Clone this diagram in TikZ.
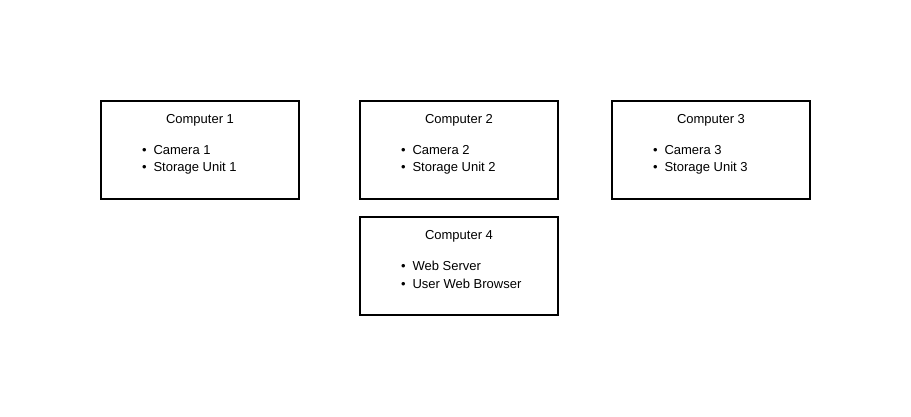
\documentclass[tikz,border=0pt]{standalone}
\usepackage{fontspec}
\setmainfont{Liberation Sans}
\usetikzlibrary{positioning}

\begin{document}
\begin{tikzpicture}[x=1pt, y=-1pt,
		    every node/.style={font=\fontsize{13}{15}\selectfont, inner sep=0pt, outer sep=0pt},
		    computer/.style={draw=black, line width=2pt, minimum width=198pt, minimum height=98pt, anchor=north west},
		    item/.style={anchor=west}]

\useasboundingbox (0,0) rectangle (911,416);

\node[computer] (c1) at (101,101) {};
\node[computer] (c2) at (360,101) {};
\node[computer] (c3) at (612,101) {};
\node[computer] (c4) at (360,217) {};

% titles
\node[below=13pt of c1.north] (t1) {Computer 1};
\node[below=13pt of c2.north] (t2) {Computer 2};
\node[below=13pt of c3.north] (t3) {Computer 3};
\node[below=13pt of c4.north] (t4) {Computer 4};

% lists
\node[item] (c1a) at ([xshift=41pt, yshift=-49pt]c1.north west) {\textbullet\hspace{7pt}Camera 1};
\node[item] (c1b) at ([xshift=41pt, yshift=-67pt]c1.north west) {\textbullet\hspace{7pt}Storage Unit 1};
\node[item] (c2a) at ([xshift=41pt, yshift=-49pt]c2.north west) {\textbullet\hspace{7pt}Camera 2};
\node[item] (c2b) at ([xshift=41pt, yshift=-67pt]c2.north west) {\textbullet\hspace{7pt}Storage Unit 2};
\node[item] (c3a) at ([xshift=41pt, yshift=-49pt]c3.north west) {\textbullet\hspace{7pt}Camera 3};
\node[item] (c3b) at ([xshift=41pt, yshift=-67pt]c3.north west) {\textbullet\hspace{7pt}Storage Unit 3};
\node[item] (c4a) at ([xshift=41pt, yshift=-49pt]c4.north west) {\textbullet\hspace{7pt}Web Server};
\node[item] (c4b) at ([xshift=41pt, yshift=-67pt]c4.north west) {\textbullet\hspace{7pt}User Web Browser};

\end{tikzpicture}
\end{document}
